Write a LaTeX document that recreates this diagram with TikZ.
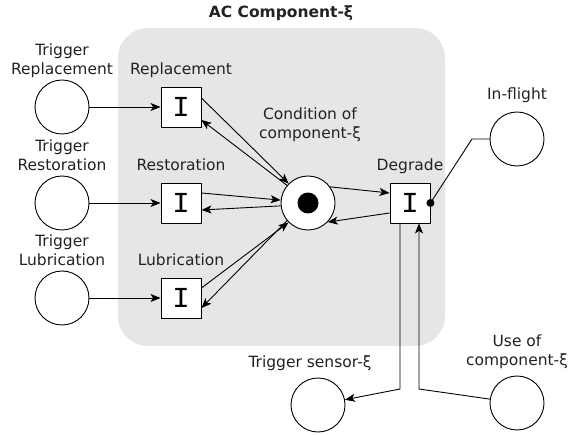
\documentclass[tikz,border=0pt]{standalone}
\usepackage{fontspec}
\setmainfont{DejaVu Sans}
\newfontfamily\monofont{Liberation Mono}
\usetikzlibrary{arrows.meta}
\definecolor{bg}{HTML}{E6E6E6}
\definecolor{txt}{HTML}{222222}
\begin{document}
\begin{tikzpicture}[x=1pt,y=-1pt,
 place/.style={circle,draw,line width=0.9pt,minimum size=54pt,inner sep=0pt,fill=white},
 trans/.style={draw,line width=0.9pt,minimum size=40pt,inner sep=0pt,fill=white,font=\monofont\fontsize{29}{29}\selectfont},
 lbl/.style={font=\fontsize{15.5}{19}\selectfont,text=txt,align=center,inner sep=0pt,anchor=base},
 arc/.style={line width=0.9pt,-{Stealth[length=10pt,width=8pt,inset=2.5pt]}},
 ln/.style={line width=0.9pt}]
\useasboundingbox (0,0) rectangle (570,435);
\fill[bg, rounded corners=30pt] (118,28) rectangle (445,346);
\node[lbl,font=\bfseries\fontsize{15.5}{19}\selectfont] (title) at (281,18) {AC Component-ξ};
% places
\node[place] (trep) at (62,107) {};
\node[place] (tres) at (62,203) {};
\node[place] (tlub) at (62,298) {};
\node[place] (cond) at (308,203) {};
\fill (cond.center) circle (10.5pt);
\node[place] (infl) at (517,139) {};
\node[place] (ts) at (318,405) {};
\node[place] (uc) at (517,403) {};
% transitions
\node[trans] (rep) at (181,107) {I};
\node[trans] (res) at (181,203) {I};
\node[trans] (lub) at (181,298) {I};
\node[trans] (deg) at (410,203) {I};
% labels
\node[lbl] (ltrep) at (62,75) {Trigger\\Replacement};
\node[lbl] (ltres) at (62,171) {Trigger\\Restoration};
\node[lbl] (ltlub) at (62,266) {Trigger\\Lubrication};
\node[lbl] (lrep) at (181,75) {Replacement};
\node[lbl] (lres) at (181,171) {Restoration};
\node[lbl] (llub) at (181,266) {Lubrication};
\node[lbl] (lcond) at (310,139) {Condition of\\component-ξ};
\node[lbl] (ldeg) at (410,171) {Degrade};
\node[lbl] (linfl) at (517,100) {In-flight};
\node[lbl] (lts) at (310,367) {Trigger sensor-ξ};
\node[lbl] (luc) at (517,366) {Use of\\component-ξ};
% arcs
\draw[arc] (trep) -- (rep);
\draw[arc] (tres) -- (res);
\draw[arc] (tlub) -- (lub);
\draw[arc] ([yshift=9pt]rep.east) -- (cond.135);
\draw[arc] (cond.140) -- ([yshift=-13pt]rep.east);
\draw[arc] ([yshift=10pt]res.east) -- (cond.174);
\draw[arc] (cond.186) -- ([yshift=-7pt]res.east);
\draw[arc] ([yshift=10pt]lub.east) -- (cond.225);
\draw[arc] (cond.220) -- ([yshift=-10pt]lub.east);
\draw[arc] (cond.36) -- ([yshift=10pt]deg.west);
\draw[arc] ([yshift=-10pt]deg.west) -- (cond.-44);
% in-flight
\coordinate (k1) at (472,139);
\draw[ln] (deg.east) -- (k1) -- (infl.west);
\fill (deg.east) circle (4pt);
% bottom
\coordinate (k2) at (400,389);
\coordinate (k3) at (419,389);
\draw[arc] ([xshift=-10pt]deg.south) -- (k2) -- (ts);
\draw[arc] (uc) -- (k3) -- ([xshift=9pt]deg.south);
\end{tikzpicture}
\end{document}
